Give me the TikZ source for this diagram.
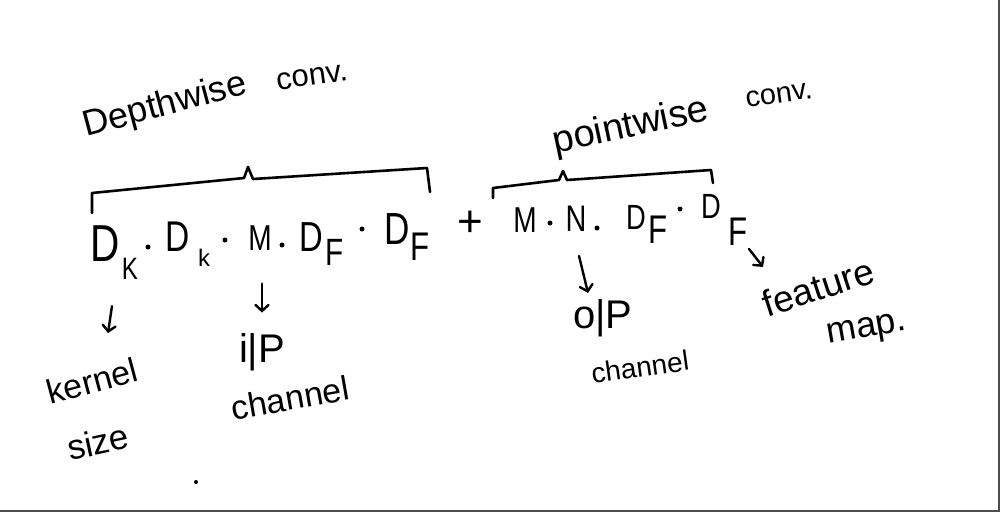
\documentclass[tikz,border=0pt]{standalone}
\usepackage{fontspec}
\setmainfont{Liberation Sans}
\usetikzlibrary{arrows.meta}
\newcommand{\fsz}[1]{\fontsize{#1}{#1}\selectfont}
\begin{document}
\begin{tikzpicture}[x=1pt,y=-1pt,
  txt/.style={inner sep=0pt, anchor=center, text=black},
  dd/.style={txt, xscale=0.78},
  br/.style={line width=2.6pt, line join=round, line cap=round},
  arr/.style={line width=2.4pt, line cap=round, -{Straight Barb[length=6pt,width=13pt,line cap=round]}},
  dotp/.style={fill=black, circle, inner sep=0pt, minimum size=5pt}]
\useasboundingbox (0,0) rectangle (1000,512);
\fill[white] (0,0) rectangle (1000,512);
\draw[gray!60!black, line width=1.5pt] (0,510.8) -- (998.8,510.8) -- (998.8,0);

% titles
\node[txt, rotate=15, font=\fsz{36}] (dw) at (165,106) {Depthwise};
\node[txt, rotate=8, font=\fsz{31}] (dwc) at (312,77) {conv.};
\node[txt, rotate=12, font=\fsz{38}] (pw) at (631,127) {pointwise};
\node[txt, rotate=8, font=\fsz{29}] (pwc) at (779,95) {conv.};

% brackets
\draw[br] (92,213) -- (92,193) -- (244,178) -- (248,167) -- (253,179) -- (427,168) -- (430,192);
\draw[br] (493,198) -- (493,188) -- (559,180) -- (563,171) -- (567,180) -- (711,170) -- (713,183);

% depthwise term
\node[dd, font=\fsz{52}] (d1) at (105,244) {D};
\node[dd, font=\fsz{31}] (k1) at (130,269) {K};
\node[dotp] (p1) at (148,247) {};
\node[dd, font=\fsz{43}] (d2) at (178,237) {D};
\node[txt, font=\fsz{24}] (k2) at (204,258) {k};
\node[dotp] (p2) at (225,240) {};
\node[dd, font=\fsz{36}] (m1) at (260,238) {M};
\node[dotp] (p3) at (282,245) {};
\node[dd, font=\fsz{42}] (d3) at (311,237) {D};
\node[dd, font=\fsz{38}] (f3) at (335,252) {F};
\node[dotp] (p4) at (362,229) {};
\node[dd, font=\fsz{45}] (d4) at (397,229) {D};
\node[dd, font=\fsz{40}] (f4) at (420,247) {F};
\node[txt, font=\fsz{44}] (plus) at (470,224) {+};

% pointwise term
\node[dd, font=\fsz{36}] (m2) at (525,220) {M};
\node[dotp] (p5) at (550,223) {};
\node[dd, font=\fsz{37}] (n2) at (576,219) {N};
\node[dotp] (p6) at (597,228) {};
\node[dd, font=\fsz{35}] (d5) at (636,217) {D};
\node[dd, font=\fsz{40}] (f5) at (658,230) {F};
\node[dotp] (p7) at (680,209) {};
\node[dd, font=\fsz{35}] (d6) at (711,206) {D};
\node[dd, font=\fsz{40}] (f6) at (738,232) {F};

% labels
\node[txt, rotate=15, font=\fsz{34}] (kern) at (92,381) {kernel};
\node[txt, rotate=12, font=\fsz{35}] (size) at (98,442) {size};
\node[txt, font=\fsz{40}] (ip) at (262,352) {i|P};
\node[txt, rotate=10, font=\fsz{34}] (ch1) at (290,398) {channel};
\node[txt, font=\fsz{40}] (op) at (603,318) {o|P};
\node[txt, rotate=8, font=\fsz{28}] (ch2) at (640,367) {channel};
\node[txt, rotate=18, font=\fsz{37}] (feat) at (818,287) {feature};
\node[txt, rotate=10, font=\fsz{36}] (map) at (867,331) {map.};

% arrows
\draw[arr] (d1.south) ++(7,44) -- ++(-4,27);
\draw[arr] (m1.south) ++(2,33) -- ++(0,29);
\draw[arr] (n2.south) ++(3,24) -- ++(9,37);
\draw[arr] (f6.south) ++(11,3) -- ++(14,18);

% stray dot
\node[dotp, minimum size=4pt] (sd) at (196,482) {};
\end{tikzpicture}
\end{document}
